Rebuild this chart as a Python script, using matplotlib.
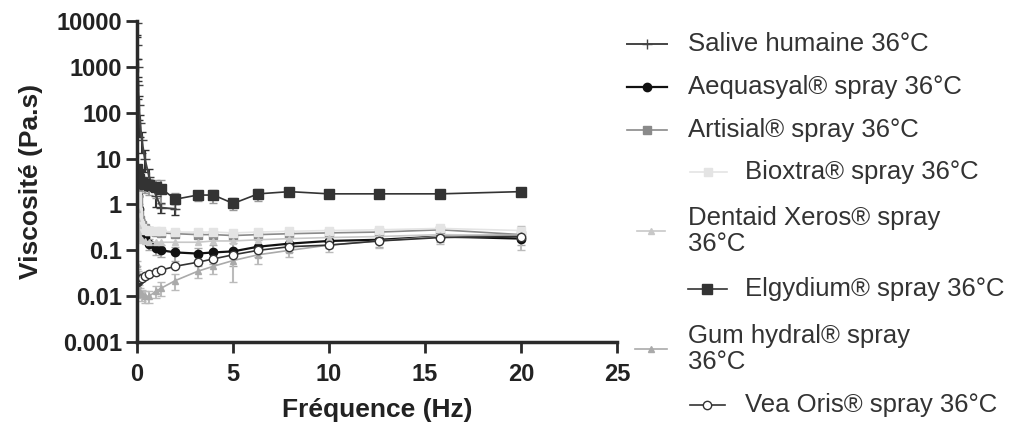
import matplotlib
matplotlib.use("Agg")
import matplotlib.pyplot as plt

plt.rcParams['font.family'] = ['Liberation Sans', 'DejaVu Sans']

# frequency sweep (Hz)
freq = [0.01, 0.02, 0.04, 0.063, 0.1, 0.16, 0.25, 0.4, 0.63, 1.0, 1.26,
        2.0, 3.16, 3.98, 5.01, 6.31, 7.94, 10.0, 12.6, 15.8, 20.0]
freq_salive = freq[:12]

# viscosity (Pa.s)
salive = [9000, 3000, 1000, 400, 150, 60, 25, 10, 4, 1.5, 0.85, 0.8]
aequasyal = [6, 4, 2.5, 1.5, 0.8, 0.45, 0.3, 0.2, 0.14, 0.11, 0.1, 0.09,
             0.085, 0.09, 0.095, 0.12, 0.14, 0.16, 0.17, 0.2, 0.18]
artisial = [3, 2, 1.3, 0.9, 0.6, 0.45, 0.35, 0.3, 0.27, 0.25, 0.24, 0.23,
            0.22, 0.22, 0.21, 0.22, 0.23, 0.24, 0.25, 0.28, 0.22]
bioxtra = [1.5, 1.0, 0.7, 0.5, 0.4, 0.35, 0.3, 0.28, 0.27, 0.26, 0.26, 0.25,
           0.25, 0.25, 0.24, 0.25, 0.26, 0.27, 0.28, 0.3, 0.27]
dentaid = [0.8, 0.5, 0.35, 0.27, 0.22, 0.19, 0.17, 0.16, 0.15, 0.15, 0.15,
           0.15, 0.15, 0.16, 0.16, 0.17, 0.18, 0.19, 0.2, 0.22, 0.21]
elgydium = [6, 5, 4.5, 4, 3.5, 3, 3, 2.8, 2.6, 2.4, 2.2, 1.3, 1.6, 1.6,
            1.05, 1.7, 1.9, 1.7, 1.7, 1.7, 1.9]
gum_hydral = [0.05, 0.035, 0.025, 0.018, 0.014, 0.012, 0.011, 0.01, 0.01,
              0.013, 0.015, 0.022, 0.035, 0.045, 0.06, 0.08, 0.1, 0.13,
              0.16, 0.2, 0.22]
vea_oris = [0.02, 0.02, 0.021, 0.022, 0.023, 0.024, 0.025, 0.027, 0.03,
            0.034, 0.037, 0.045, 0.055, 0.065, 0.08, 0.1, 0.12, 0.13,
            0.16, 0.19, 0.2]

# standard deviations for the series with visible error bars
salive_err = [4000, 1500, 500, 200, 80, 30, 12, 5, 2, 0.6, 0.2, 0.2]
elgydium_err = [1, 1, 1, 1, 1, 1, 1, 1, 1, 1, 1.2, 0.5, 0.4, 0.5, 0.3,
                0.5, 0.3, 0.2, 0.2, 0.2, 0.2]
aequasyal_err = [1, 1, 0.5, 0.3, 0.2, 0.1, 0.06, 0.05, 0.04, 0.03, 0.03,
                 0.03, 0.03, 0.04, 0.05, 0.05, 0.05, 0.05, 0.05, 0.05, 0.05]
gum_err = [0.01, 0.01, 0.01, 0.005, 0.004, 0.003, 0.003, 0.003, 0.003,
           0.004, 0.005, 0.008, 0.01, 0.015, 0.04, 0.03, 0.03, 0.04, 0.05,
           0.06, 0.12]

labels = ['Salive humaine 36°C', 'Aequasyal® spray 36°C',
          'Artisial® spray 36°C', 'Bioxtra® spray 36°C',
          'Dentaid Xeros® spray\n36°C', 'Elgydium® spray 36°C',
          'Gum hydral® spray\n36°C', 'Vea Oris® spray 36°C']

styles = [
    dict(color='#444444', marker='+', ms=7, lw=1.4),
    dict(color='#111111', marker='o', ms=6, lw=1.6),
    dict(color='#8a8a8a', marker='s', ms=6, lw=1.2),
    dict(color='#e4e4e4', marker='s', ms=6, lw=1.2),
    dict(color='#c8c8c8', marker='^', ms=5, lw=1.2),
    dict(color='#333333', marker='s', ms=7, lw=1.2),
    dict(color='#aaaaaa', marker='^', ms=5, lw=1.2),
    dict(color='#333333', marker='o', ms=6, lw=1.2, mfc='white'),
]
err_colors = ['#333333', '#aaaaaa', '#aaaaaa', '#aaaaaa', '#aaaaaa',
              '#999999', '#bbbbbb', '#aaaaaa']

fig = plt.figure(figsize=(10.19, 4.25), dpi=100)
ax = fig.add_axes([0.1345, 0.195, 0.471, 0.756])

series = [(freq_salive, salive, salive_err), (freq, aequasyal, aequasyal_err),
          (freq, artisial, None), (freq, bioxtra, None), (freq, dentaid, None),
          (freq, elgydium, elgydium_err), (freq, gum_hydral, gum_err),
          (freq, vea_oris, None)]
for (x, y, err), st, ec in zip(series, styles, err_colors):
    ax.errorbar(x, y, yerr=err, ecolor=ec, elinewidth=1.5, capsize=3, **st)

ax.set_yscale('log')
ax.set_ylim(0.001, 10000)
ax.set_yticks([0.001, 0.01, 0.1, 1, 10, 100, 1000, 10000])
ax.set_yticklabels(['0.001', '0.01', '0.1', '1', '10', '100', '1000', '10000'])
ax.minorticks_off()
ax.set_xlim(0, 25)
ax.set_xticks([0, 5, 10, 15, 20, 25])

for s in ['top', 'right']:
    ax.spines[s].set_visible(False)
for s in ['left', 'bottom']:
    ax.spines[s].set_linewidth(2.5)
    ax.spines[s].set_color('#2a2a2a')
ax.tick_params(width=2, length=8, labelsize=17, color='#2a2a2a',
               labelcolor='#222222')
ax.tick_params(axis='x', pad=7)
ax.tick_params(axis='y', pad=3)
for lab in ax.get_xticklabels() + ax.get_yticklabels():
    lab.set_fontweight('bold')

ax.set_xlabel('Fréquence (Hz)', fontsize=19, fontweight='bold',
              color='#222222')
ax.xaxis.set_label_coords(0.5, -0.212)
ax.xaxis.label.set_va('center')
ax.set_ylabel('Viscosité (Pa.s)', fontsize=19, fontweight='bold',
              color='#222222')
ax.yaxis.set_label_coords(-0.222, 0.5)
ax.yaxis.label.set_va('center')

# Prism-style legend, drawn in pixel coordinates on an overlay axes
lax = fig.add_axes([0, 0, 1, 1])
lax.set_xlim(0, 1019)
lax.set_ylim(425, 0)
lax.axis('off')
# (handle start, handle end, text start, row centre) in pixels
legend_pos = [(627, 667, 688, 44), (627, 667, 688, 87), (627, 667, 688, 130),
              (690, 727, 745, 172), (637, 665, 688, 231), (688, 727, 745, 289),
              (635, 667, 688, 349), (690, 725, 745, 405)]
for (x0, x1, tx, ty), st, lab in zip(legend_pos, styles, labels):
    lax.plot([x0, (x0 + x1) / 2, x1], [ty, ty, ty], markevery=[1], **st)
    lax.text(tx, ty, lab, fontsize=18.5, color='#333333', va='center',
             ha='left', linespacing=1.15)

fig.savefig('out.png', dpi=100)
